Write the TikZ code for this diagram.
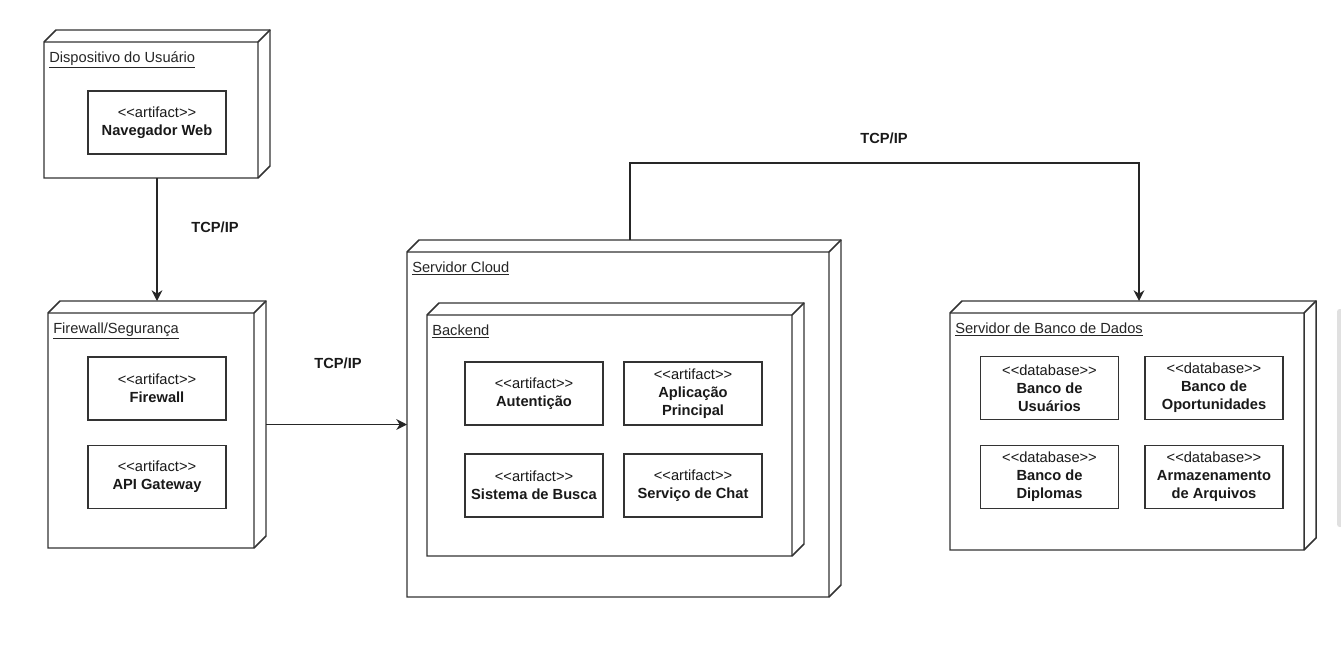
\documentclass[tikz,border=0pt]{standalone}
\usepackage{fontspec}
\setmainfont{Liberation Sans}
\usetikzlibrary{arrows.meta}

% A 3D deployment node: name, left, back top, back right, bottom, title
\newcommand\deploynode[6]{%
  \node[anchor=north west, inner sep=0pt, outer sep=0pt,
        minimum width={(#4-#2)*0.75pt}, minimum height={(#5-#3)*0.75pt}] (#1) at (#2,#3) {};
  \draw[frame, fill=white]
    ([shift={(0,12)}]#1.north west) -- ([shift={(12,0)}]#1.north west) -- (#1.north east)
    -- ([shift={(0,-12)}]#1.south east) -- ([shift={(-12,0)}]#1.south east)
    -- (#1.south west) -- cycle;
  \draw[frame]
    ([shift={(0,12)}]#1.north west) -- ([shift={(-12,12)}]#1.north east)
    -- ([shift={(-12,0)}]#1.south east)
    ([shift={(-12,12)}]#1.north east) -- (#1.north east);
  \node[title, anchor=base west] (#1-title) at ([shift={(5,32)}]#1.north west) {\underline{#6}};
}
% stereotype in double angle brackets (kerns keep << and >> from turning into guillemets)
\newcommand\stereo[1]{\textless\kern0pt\textless #1\textgreater\kern0pt\textgreater}

\begin{document}
\begin{tikzpicture}[x=0.75pt, y=-0.75pt,
  frame/.style={draw=black!80, line width=1.1pt},
  title/.style={text=black!85, inner sep=0pt, font=\fontsize{11}{13.5}\selectfont},
  art/.style={draw=black!80, line width=1.1pt, fill=white, align=center,
    minimum width=103.5pt, minimum height=47.25pt, inner sep=1pt,
    text=black!90, font=\fontsize{11}{13.5}\selectfont},
  conn/.style={draw=black!85, line width=1.1pt, -{Stealth[length=8pt, width=8pt, inset=2.5pt]}},
  lbl/.style={font=\bfseries\fontsize{11}{13.5}\selectfont, text=black!90, inner sep=0pt}
]
\useasboundingbox (0,0) rectangle (1341,653);

% deployment nodes
\deploynode{dev}{44}{30}{270}{178}{Dispositivo do Usuário}
\deploynode{fw}{48}{301}{266}{548}{Firewall/Segurança}
\deploynode{cloud}{407}{240}{841}{597}{Servidor Cloud}
\deploynode{backend}{427}{303}{804}{556}{Backend}
\deploynode{db}{950}{301}{1316}{550}{Servidor de Banco de Dados}

% artifacts
\node[art] (nav) at (157,122.5) {\stereo{artifact}\\\textbf{Navegador Web}};
\node[art] (fwa) at (157,388.5) {\stereo{artifact}\\\textbf{Firewall}};
\node[art] (api) at (157,477) {\stereo{artifact}\\\textbf{API Gateway}};

\node[art] (aut) at (534,393.5) {\stereo{artifact}\\\textbf{Autentição}};
\node[art] (app) at (693,393.5) {\stereo{artifact}\\\textbf{Aplicação}\\\textbf{Principal}};
\node[art] (busca) at (534,485.5) {\stereo{artifact}\\\textbf{Sistema de Busca}};
\node[art] (chat) at (693,485.5) {\stereo{artifact}\\\textbf{Serviço de Chat}};

\node[art] (dbu) at (1049.5,388) {\stereo{database}\\\textbf{Banco de}\\\textbf{Usuários}};
\node[art] (dbo) at (1214,388) {\stereo{database}\\\textbf{Banco de}\\\textbf{Oportunidades}};
\node[art] (dbd) at (1049.5,477) {\stereo{database}\\\textbf{Banco de}\\\textbf{Diplomas}};
\node[art] (dba) at (1214,477) {\stereo{database}\\\textbf{Armazenamento}\\\textbf{de Arquivos}};

% connections
\draw[conn] (dev.south) -- (fw.north);
\node[lbl] (l1) at (215,227) {TCP/IP};

\draw[conn] (fw.east) -- (fw.east -| cloud.west);
\node[lbl] (l2) at (338,363) {TCP/IP};

\coordinate (cloudout) at ([shift={(6,0)}]cloud.north);
\coordinate (dbin) at ([shift={(6,0)}]db.north);
\draw[conn] (cloudout) -- ++(0,-77) -| (dbin);
\node[lbl] (l3) at (884,138) {TCP/IP};

% scroll bar at the right edge
\fill[black!12, rounded corners=2pt] (1337,309) rectangle (1343,527);
\end{tikzpicture}
\end{document}
